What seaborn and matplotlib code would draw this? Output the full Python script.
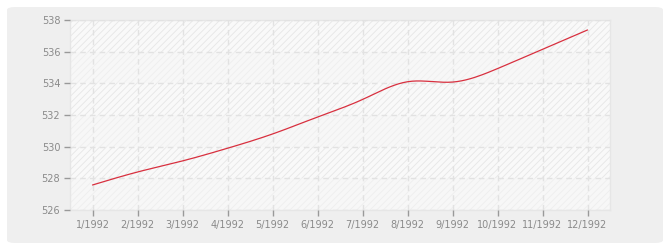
import numpy as np
import pandas as pd
import matplotlib
matplotlib.use("Agg")
import matplotlib.pyplot as plt
from matplotlib.patches import FancyBboxPatch
import seaborn as sns

# ---- data ----
months = ["1/1992", "2/1992", "3/1992", "4/1992", "5/1992", "6/1992",
          "7/1992", "8/1992", "9/1992", "10/1992", "11/1992", "12/1992"]
values = [527.58, 528.40, 529.10, 529.90, 530.80, 531.87,
          532.98, 534.10, 534.08, 534.93, 536.15, 537.37]
y_ticks = [526, 528, 530, 532, 534, 536, 538]

sns.set_theme(style="white")
plt.rcParams["font.family"] = ["DejaVu Sans"]
plt.rcParams["hatch.linewidth"] = 0.6

W, H = 670, 250
fig = plt.figure(figsize=(W / 100, H / 100), dpi=100, facecolor="white")

# outer rounded panel
box = FancyBboxPatch((7 / W, 7 / H), (663 - 7) / W, (243 - 7) / H,
                     boxstyle="round,pad=0,rounding_size=0.012",
                     transform=fig.transFigure, facecolor="#efefef",
                     edgecolor="none", zorder=-5)
fig.patches.append(box)

ax = fig.add_axes([70 / W, (H - 210) / H, 540 / W, 190 / H])
ax.set_zorder(2)
ax.set_facecolor("#f9f9f9")

# alternating hatched bands
for i in range(0, len(y_ticks) - 1):
    lo, hi = y_ticks[i], y_ticks[i + 1]
    if i % 2 == 1:
        ax.axhspan(lo, hi, facecolor="none", edgecolor="#e6e6e6",
                   hatch="/////", linewidth=0, zorder=0)
    else:
        ax.axhspan(lo, hi, facecolor="#f7f7f7", edgecolor="#eeeeee",
                   hatch="/////", linewidth=0, zorder=0)

# smooth rendering of the series (natural cubic spline through the points)
x = np.arange(1, len(values) + 1, dtype=float)
y = np.array(values, dtype=float)
n = len(x)
h = np.diff(x)
A = np.zeros((n, n))
b = np.zeros(n)
A[0, 0] = A[-1, -1] = 1
for i in range(1, n - 1):
    A[i, i - 1] = h[i - 1]
    A[i, i] = 2 * (h[i - 1] + h[i])
    A[i, i + 1] = h[i]
    b[i] = 3 * ((y[i + 1] - y[i]) / h[i] - (y[i] - y[i - 1]) / h[i - 1])
c = np.linalg.solve(A, b)
xs, ys = [], []
for i in range(n - 1):
    t = np.linspace(0, h[i], 20, endpoint=False)
    bi = (y[i + 1] - y[i]) / h[i] - h[i] * (2 * c[i] + c[i + 1]) / 3
    di = (c[i + 1] - c[i]) / (3 * h[i])
    xs.extend(x[i] + t)
    ys.extend(y[i] + bi * t + c[i] * t ** 2 + di * t ** 3)
xs.append(x[-1]); ys.append(y[-1])
curve = pd.DataFrame({"x": xs, "y": ys})
sns.lineplot(data=curve, x="x", y="y", ax=ax, color="#d8303f",
             linewidth=0.9, zorder=3, estimator=None, sort=False)

ax.set_xlim(0.5, len(values) + 0.5)
ax.set_ylim(y_ticks[0], y_ticks[-1])
ax.set_xticks(x)
ax.set_xticklabels(months)
ax.set_yticks(y_ticks)
ax.set_xlabel("")
ax.set_ylabel("")

ax.grid(True, color="#e2e2e2", linestyle=(0, (4, 3)), linewidth=1)
ax.set_axisbelow(False)
for gl in ax.get_xgridlines() + ax.get_ygridlines():
    gl.set_zorder(1)

ax.tick_params(axis="both", colors="#999999", labelsize=7, length=4,
               width=1, pad=3, labelcolor="#8a8a8a")
ax.tick_params(axis="x", bottom=True)
ax.tick_params(axis="y", left=True)
for s in ax.spines.values():
    s.set_color("#e6e6e6")
    s.set_linewidth(1)

fig.savefig("out.png", dpi=100, facecolor="white")
